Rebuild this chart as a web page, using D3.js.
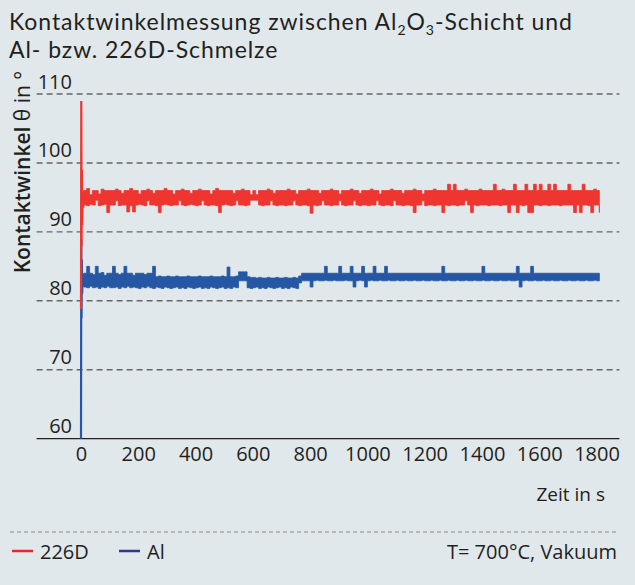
<!DOCTYPE html>
<html lang="de">
<head>
<meta charset="utf-8">
<title>Kontaktwinkelmessung</title>
<script src="https://d3js.org/d3.v7.min.js"></script>
<style>
  body { margin: 0; background: #e1e8eb; }
  svg { display: block; font-family: "Open Sans", sans-serif; }
</style>
</head>
<body>
<svg id="chart" width="635" height="585"></svg>
<script>
// first seconds (transient) as single readings
var startTimes = [0, 1, 2, 3, 4, 6, 8];
var startRed = [78.8, 109, 88, 99, 91, 96, 93.5];
var startAl = [60, 89, 77.5, 86, 81, 84, 82];

// afterwards: highest / lowest reading in each 10 s interval
var binTimes = d3.range(10, 1811, 10);

var redHigh = [
  96.0, 96.3, 95.4, 96.0, 96.0, 95.5, 96.2, 96.0, 96.0, 96.0,
  96.0, 96.2, 96.0, 95.6, 96.0, 96.0, 96.3, 96.0, 96.0, 95.5,
  96.0, 96.0, 96.2, 96.0, 95.6, 96.0, 96.0, 96.0, 96.3, 96.0,
  96.0, 95.5, 96.0, 96.0, 96.2, 96.0, 96.0, 95.6, 96.0, 96.0,
  96.2, 96.0, 96.0, 96.0, 95.5, 96.0, 96.3, 96.0, 96.0, 96.0,
  96.0, 96.0, 95.6, 96.0, 96.0, 96.2, 96.0, 96.0, 95.4, 96.0,
  95.4, 96.0, 96.0, 96.0, 96.2, 96.0, 95.6, 96.0, 96.0, 96.0,
  96.0, 96.2, 96.0, 96.0, 95.5, 96.0, 96.0, 96.0, 96.2, 96.0,
  96.0, 96.0, 95.6, 96.0, 96.0, 96.0, 96.2, 96.0, 96.0, 95.5,
  96.0, 96.0, 96.0, 96.2, 96.0, 96.0, 95.6, 96.0, 96.0, 96.0,
  96.2, 96.0, 96.0, 95.5, 96.0, 96.0, 96.0, 96.2, 96.0, 96.0,
  96.0, 95.6, 96.0, 96.0, 96.0, 96.2, 96.0, 96.0, 95.5, 96.0,
  96.0, 96.0, 96.2, 96.0, 96.0, 96.0, 96.0, 96.9, 96.0, 96.9,
  96.0, 96.0, 96.0, 96.2, 96.0, 96.0, 96.0, 96.0, 96.2, 96.0,
  96.0, 96.0, 96.0, 96.9, 96.0, 96.0, 96.2, 96.0, 96.0, 96.0,
  96.9, 96.0, 96.0, 96.0, 96.9, 96.0, 96.0, 96.9, 96.0, 96.9,
  96.0, 96.0, 96.9, 96.0, 96.9, 96.0, 96.0, 96.0, 96.0, 96.9,
  96.0, 96.0, 96.0, 96.0, 96.9, 96.0, 96.0, 96.0, 96.2, 96.0,
  96.0
];

var redLow = [
  93.9, 93.8, 94.0, 93.9, 94.6, 93.8, 93.9, 94.0, 92.8, 93.9,
  93.9, 94.5, 93.8, 93.9, 93.9, 92.9, 93.8, 92.9, 93.9, 94.0,
  93.9, 93.8, 94.5, 93.9, 93.9, 93.8, 92.8, 93.9, 94.0, 93.9,
  93.8, 93.9, 93.9, 94.5, 93.9, 93.8, 93.9, 94.0, 93.9, 93.8,
  93.9, 94.5, 93.9, 93.8, 93.9, 93.9, 93.8, 92.8, 93.9, 94.0,
  93.9, 93.8, 93.9, 94.5, 93.9, 93.9, 93.8, 93.9, 94.6, 94.6,
  94.6, 93.9, 93.8, 93.9, 93.9, 94.5, 93.9, 93.8, 93.9, 93.9,
  93.8, 93.9, 93.9, 94.5, 93.9, 93.8, 93.9, 93.9, 93.8, 92.7,
  93.9, 93.8, 93.9, 94.5, 93.9, 93.9, 93.8, 93.9, 93.9, 94.5,
  93.9, 93.8, 93.9, 93.9, 94.5, 93.9, 93.8, 93.9, 93.9, 93.8,
  93.9, 93.9, 94.5, 93.9, 93.8, 93.9, 93.9, 93.8, 94.5, 93.9,
  93.9, 93.8, 93.9, 93.9, 93.8, 92.8, 93.9, 93.9, 94.5, 93.8,
  93.9, 93.9, 93.8, 93.9, 93.9, 92.8, 93.9, 93.8, 93.9, 93.9,
  93.8, 93.9, 93.9, 94.5, 93.9, 92.8, 93.9, 93.8, 93.9, 93.9,
  93.9, 93.8, 93.9, 93.9, 93.9, 93.8, 93.9, 93.9, 92.8, 93.9,
  93.9, 92.8, 93.9, 93.8, 93.9, 92.8, 92.8, 93.9, 93.9, 93.8,
  93.9, 93.9, 93.8, 93.9, 93.9, 93.9, 93.8, 93.9, 93.9, 93.9,
  93.9, 92.8, 93.9, 92.8, 93.9, 93.9, 93.8, 92.8, 93.9, 93.9,
  92.8
];

var alHigh = [
  84.0, 85.0, 84.0, 83.8, 85.0, 84.0, 84.1, 83.7, 84.0, 84.0,
  85.0, 84.0, 83.8, 84.0, 85.0, 84.0, 84.0, 83.7, 84.0, 84.0,
  84.0, 83.8, 84.0, 84.0, 85.0, 83.5, 83.6, 83.5, 83.5, 83.6,
  83.5, 83.5, 83.6, 83.5, 83.5, 83.5, 83.6, 83.5, 83.5, 83.5,
  83.6, 83.5, 83.5, 83.5, 83.6, 83.5, 83.5, 83.5, 83.6, 83.5,
  84.9, 83.5, 83.5, 83.6, 84.2, 84.2, 84.2, 83.5, 83.4, 83.4,
  83.3, 83.4, 83.3, 83.3, 83.4, 83.3, 83.3, 83.4, 83.3, 83.3,
  83.4, 83.3, 83.3, 83.4, 83.3, 83.6, 84.0, 84.0, 84.0, 84.0,
  84.0, 84.0, 84.0, 84.0, 85.0, 84.0, 84.0, 84.0, 84.0, 85.0,
  84.0, 84.0, 84.0, 85.0, 84.0, 84.0, 84.0, 85.0, 84.0, 84.0,
  84.0, 85.0, 84.0, 84.0, 84.0, 85.0, 84.0, 84.0, 84.0, 84.0,
  84.0, 84.0, 84.0, 84.0, 84.0, 84.0, 84.0, 84.0, 84.0, 84.0,
  84.0, 84.0, 84.0, 84.0, 84.0, 85.0, 84.0, 84.0, 84.0, 84.0,
  84.0, 84.0, 84.0, 84.0, 84.0, 84.0, 84.0, 84.0, 84.0, 85.0,
  84.0, 84.0, 84.0, 84.0, 84.0, 84.0, 84.0, 84.0, 84.0, 84.0,
  84.0, 85.0, 84.0, 84.0, 84.0, 84.0, 85.0, 84.0, 84.0, 84.0,
  84.0, 84.0, 84.0, 84.0, 84.0, 84.0, 84.0, 84.0, 84.0, 84.0,
  84.0, 84.0, 84.0, 84.0, 84.0, 84.0, 84.0, 84.0, 84.0, 84.0,
  84.0
];

var alLow = [
  82.0, 81.9, 82.1, 81.9, 82.0, 81.8, 82.0, 81.9, 82.1, 81.9,
  81.9, 82.0, 81.8, 82.0, 81.9, 82.1, 81.9, 82.0, 81.9, 81.8,
  82.0, 81.9, 82.1, 81.9, 81.8, 82.0, 81.9, 81.8, 82.0, 81.9,
  81.8, 81.9, 82.0, 81.8, 81.9, 81.8, 82.0, 81.9, 81.8, 81.9,
  82.0, 81.8, 81.9, 81.8, 82.0, 81.9, 81.8, 81.9, 82.0, 81.8,
  81.9, 81.8, 82.0, 81.9, 82.9, 82.9, 82.9, 81.9, 81.8, 81.9,
  82.0, 81.8, 81.9, 81.8, 82.0, 81.9, 81.8, 81.9, 82.0, 81.8,
  81.9, 81.8, 82.0, 81.9, 81.8, 82.6, 82.9, 82.9, 82.9, 82.0,
  82.9, 83.0, 82.9, 82.9, 83.0, 82.9, 82.9, 83.0, 82.9, 82.9,
  82.9, 83.0, 82.9, 82.9, 82.0, 82.9, 83.0, 82.9, 82.0, 82.9,
  83.0, 82.9, 82.9, 83.0, 82.9, 82.9, 83.0, 82.9, 82.9, 83.0,
  82.9, 82.9, 83.0, 82.9, 82.9, 83.0, 82.9, 82.9, 83.0, 82.9,
  82.9, 83.0, 82.9, 82.9, 83.0, 82.9, 82.9, 83.0, 82.9, 82.9,
  83.0, 82.9, 82.9, 83.0, 82.9, 82.9, 83.0, 82.9, 82.9, 83.0,
  82.9, 82.9, 83.0, 82.9, 82.9, 83.0, 82.9, 82.9, 83.0, 82.9,
  82.9, 83.0, 82.0, 82.9, 83.0, 82.9, 82.9, 83.0, 82.9, 82.9,
  83.0, 82.9, 82.9, 83.0, 82.9, 82.9, 83.0, 82.9, 82.9, 83.0,
  82.9, 82.9, 83.0, 82.9, 82.9, 83.0, 82.9, 82.9, 83.0, 82.9,
  83.0
];

var yTicks = [60, 70, 80, 90, 100, 110];
var yGrid = [70, 80, 90, 100, 110];
var xTicks = [0, 200, 400, 600, 800, 1000, 1200, 1400, 1600, 1800];
var xAxisExtent = [-155, 1880];

var svg = d3.select("#chart");
var ink = "#231f20";

svg.append("rect").attr("width", 635).attr("height", 585).attr("fill", "#e1e8eb");

// title (Lato has tighter line metrics, so the two lines don't collide)
var title = svg.append("text")
  .attr("x", 9).attr("y", 30)
  .attr("font-family", "Lato, sans-serif")
  .attr("font-size", "23px")
  .attr("letter-spacing", "0.95px")
  .attr("fill", ink);
title.append("tspan").text("Kontaktwinkelmessung zwischen Al");
title.append("tspan").attr("font-size", "14px").attr("dy", 5).text("2");
title.append("tspan").attr("dy", -5).text("O");
title.append("tspan").attr("font-size", "14px").attr("dy", 5).text("3");
title.append("tspan").attr("dy", -5).text("-Schicht und");
title.append("tspan").attr("x", 9).attr("dy", 28).text("Al- bzw. 226D-Schmelze");

var x = d3.scaleLinear().domain([0, 1800]).range([81, 596.5]);
var y = d3.scaleLinear().domain([60, 110]).range([438.7, 94]);

// dashed grid
svg.append("g").selectAll("line")
  .data(yGrid)
  .enter().append("line")
  .attr("x1", x(xAxisExtent[0])).attr("x2", x(xAxisExtent[1]))
  .attr("y1", function (d) { return y(d); })
  .attr("y2", function (d) { return y(d); })
  .attr("stroke", "#666")
  .attr("stroke-width", 1.4)
  .attr("stroke-dasharray", "6,4");

// y tick labels sit above the grid lines
var gy = svg.append("g")
  .attr("transform", "translate(" + x(0) + ",0)")
  .call(d3.axisLeft(y).tickValues(yTicks).tickSize(0).tickPadding(9));
gy.select(".domain").remove();
gy.selectAll("text")
  .attr("dy", 0).attr("y", -6)
  .attr("font-family", "Open Sans, sans-serif")
  .attr("font-size", "20px").attr("fill", ink);

// x axis
var gx = svg.append("g")
  .attr("transform", "translate(0," + y(60) + ")")
  .call(d3.axisBottom(x).tickValues(xTicks).tickSize(0).tickFormat(d3.format("d")));
gx.select(".domain").remove();
gx.selectAll("text")
  .attr("dy", 0).attr("y", 22.5)
  .attr("font-family", "Open Sans, sans-serif")
  .attr("font-size", "20px").attr("fill", ink);
gx.append("line")
  .attr("x1", x(xAxisExtent[0])).attr("x2", x(xAxisExtent[1]))
  .attr("stroke", ink).attr("stroke-width", 1.3);

svg.append("text")
  .attr("x", 605).attr("y", 501)
  .attr("text-anchor", "end")
  .attr("font-size", "19px").attr("fill", ink)
  .text("Zeit in s");

// y label
var yl = svg.append("text")
  .attr("transform", "translate(30,172) rotate(-90)")
  .attr("text-anchor", "middle")
  .attr("font-size", "21px").attr("fill", ink);
yl.append("tspan").attr("font-weight", 600).text("Kontaktwinkel");
yl.append("tspan").text(" \u03b8 in \u00b0");

// data
var line = d3.line()
  .x(function (d) { return x(d[0]); })
  .y(function (d) { return y(d[1]); });

var band = d3.area()
  .curve(d3.curveStepAfter)
  .x(function (d) { return x(d.t); })
  .y0(function (d) { return y(d.lo); })
  .y1(function (d) { return y(d.hi); });

function bins(hi, lo) {
  return binTimes.map(function (t, i) { return { t: t, hi: hi[i], lo: lo[i] }; });
}
function transient(vals) {
  return startTimes.map(function (t, i) { return [t, vals[i]]; });
}

var seriesDefs = [
  { color: "#2557a5", start: startAl, hi: alHigh, lo: alLow },
  { color: "#ee3530", start: startRed, hi: redHigh, lo: redLow }
];

seriesDefs.forEach(function (s) {
  svg.append("path")
    .datum(bins(s.hi, s.lo))
    .attr("fill", s.color)
    .attr("stroke", s.color)
    .attr("stroke-width", 0.8)
    .attr("d", band);
  svg.append("path")
    .datum(transient(s.start))
    .attr("fill", "none")
    .attr("stroke", s.color)
    .attr("stroke-width", 2.2)
    .attr("d", line);
});

// footer
svg.append("line")
  .attr("x1", 10).attr("x2", 617)
  .attr("y1", 532).attr("y2", 532)
  .attr("stroke", "#888").attr("stroke-width", 1.2)
  .attr("stroke-dasharray", "4,3");

var legend = [
  { name: "226D", color: "#e8262d", x: 12 },
  { name: "Al", color: "#2e3a8c", x: 119 }
];
var lg = svg.append("g").selectAll("g")
  .data(legend)
  .enter().append("g")
  .attr("transform", function (d) { return "translate(" + d.x + ",0)"; });
lg.append("line")
  .attr("x1", 0).attr("x2", 21)
  .attr("y1", 551).attr("y2", 551)
  .attr("stroke", function (d) { return d.color; })
  .attr("stroke-width", 2.5);
lg.append("text")
  .attr("x", 28).attr("y", 559)
  .attr("font-size", "20px").attr("fill", ink)
  .text(function (d) { return d.name; });

svg.append("text")
  .attr("x", 617).attr("y", 559)
  .attr("text-anchor", "end")
  .attr("font-size", "20px").attr("fill", ink)
  .text("T= 700\u00b0C, Vakuum");
</script>
</body>
</html>
